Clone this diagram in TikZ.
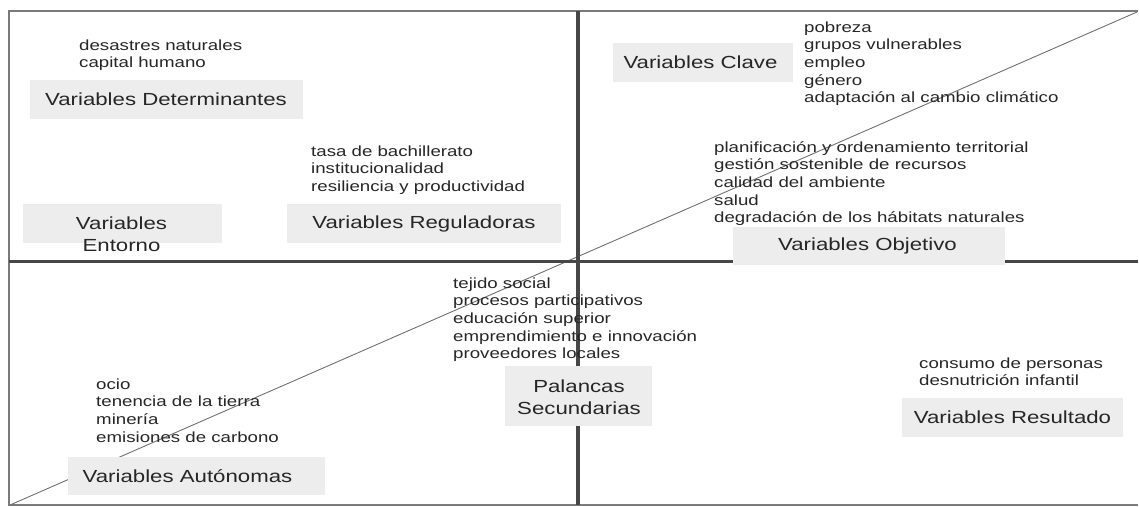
\documentclass[tikz,border=0pt]{standalone}
\usepackage{fontspec}
\setmainfont[FakeStretch=1.27]{Liberation Sans}
\definecolor{boxgray}{HTML}{EDEDED}
\definecolor{txt}{HTML}{262626}
\definecolor{divline}{HTML}{474747}
\definecolor{framec}{HTML}{7A7A7A}
\definecolor{diagc}{HTML}{707070}
\tikzset{
  box/.style={rectangle, fill=boxgray, inner sep=0pt},
  lbltext/.style={font=\fontsize{17.5}{22}\selectfont, text=txt, align=center, inner sep=0pt},
  items/.style={anchor=base west, align=left, inner sep=0pt, font=\fontsize{14.7}{17.7}\selectfont, text=txt},
  divider/.style={draw=divline, line width=3.4pt},
  frameline/.style={draw=framec, line width=1.6pt},
  diagline/.style={draw=diagc, line width=0.9pt}
}
\begin{document}
\begin{tikzpicture}[x=1pt, y=-1pt]
\useasboundingbox (0,0) rectangle (1139,506);
% frame
\coordinate (ftr) at (1138,11);
\coordinate (ftl) at (9,11);
\coordinate (fbl) at (9,505);
\coordinate (fbr) at (1138,505);
\draw[frameline] (ftr) -- (ftl) -- (fbl) -- (fbr);
% diagonal
\coordinate (d1) at (10,505);
\coordinate (d2) at (1137,12);
\draw[diagline] (d1) -- (d2);
% dividers
\coordinate (vt) at (578,11);
\coordinate (vb) at (578,505);
\coordinate (hl) at (9,261.5);
\coordinate (hr) at (1138,261.5);
\draw[divider] (vt) -- (vb);
\draw[divider] (hl) -- (hr);

% boxes with labels
\node[box, minimum width=273, minimum height=39] (det) at (166.5,99.5) {};
\node[lbltext] (dett) at (166,99.5) {Variables Determinantes};

\node[box, minimum width=199, minimum height=39] (ent) at (122.5,223.5) {};
\node[lbltext] (entt) at (121.5,234.5) {Variables\\Entorno};

\node[box, minimum width=274, minimum height=39] (reg) at (424,223.5) {};
\node[lbltext] (regt) at (424,223.5) {Variables Reguladoras};

\node[box, minimum width=180, minimum height=39] (cla) at (703,62.5) {};
\node[lbltext] (clat) at (700.5,62.5) {Variables Clave};

\node[box, minimum width=272, minimum height=38] (obj) at (869,246) {};
\node[lbltext] (objt) at (867.5,246) {Variables Objetivo};

\node[box, minimum width=147, minimum height=60] (pal) at (578.5,396) {};
\node[lbltext] (palt) at (579,397) {Palancas\\Secundarias};

\node[box, minimum width=257, minimum height=38] (aut) at (196.5,476) {};
\node[lbltext] (autt) at (187.5,476.5) {Variables Autónomas};

\node[box, minimum width=221, minimum height=39] (res) at (1012.5,417.5) {};
\node[lbltext] (rest) at (1012.5,417.5) {Variables Resultado};

% item lists (anchored at the baseline of their last line)
\node[items] (idet) at (79,67.7) {desastres naturales\\capital humano};
\node[items] (ireg) at (311,191.4) {tasa de bachillerato\\institucionalidad\\resiliencia y productividad};
\node[items] (icla) at (804,102.8) {pobreza\\grupos vulnerables\\empleo\\género\\adaptación al cambio climático};
\node[items] (iobj) at (714,222.8) {planificación y ordenamiento territorial\\gestión sostenible de recursos\\calidad del ambiente\\salud\\degradación de los hábitats naturales};
\node[items] (ipal) at (453,358.8) {tejido social\\procesos participativos\\educación superior\\emprendimiento e innovación\\proveedores locales};
\node[items] (iaut) at (96,442.1) {ocio\\tenencia de la tierra\\minería\\emisiones de carbono};
\node[items] (ires) at (919,385.7) {consumo de personas\\desnutrición infantil};
\end{tikzpicture}
\end{document}
